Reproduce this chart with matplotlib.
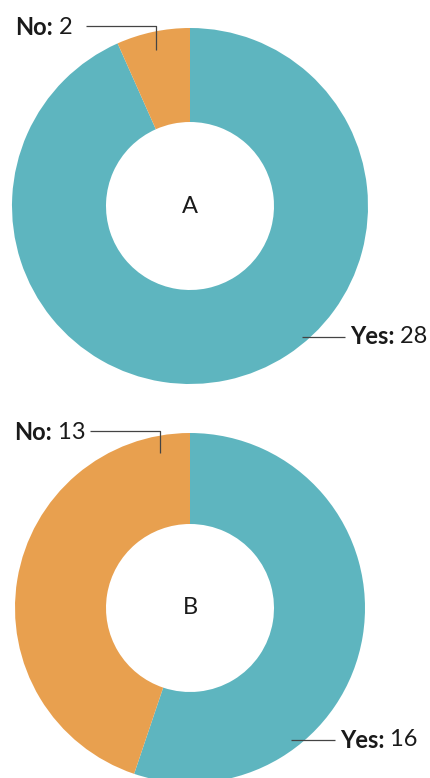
import numpy as np
import matplotlib.pyplot as plt

plt.rcParams['font.family'] = ['Lato', 'DejaVu Sans']

# data
charts = ['A', 'B']
labels = ['Yes', 'No']
values_a = [28, 2]
values_b = [16, 13]
colors = ['#5eb5bf', '#e8a04f']

W, H = 431, 778
fig = plt.figure(figsize=(W / 100, H / 100), dpi=100)
ax = fig.add_axes([0, 0, 1, 1])
ax.set_xlim(0, W)
ax.set_ylim(0, H)
renderer = fig.canvas.get_renderer()

FS = 17

def donut(values, cx, cy, r, hole, name):
    ax.pie(values, colors=colors, startangle=90, counterclock=False,
           center=(cx, H - cy), radius=r,
           wedgeprops=dict(width=r - hole, linewidth=0))
    ax.text(cx, H - cy, name, ha='center', va='center', fontsize=FS, color='#1a1a1a')

def text_width(t):
    bb = t.get_window_extent(renderer=renderer)
    return bb.width

def leader(pts, text_xy, label, value, ha):
    ax.plot([p[0] for p in pts], [H - p[1] for p in pts], color='#444444', lw=0.9,
            solid_capstyle='butt')
    x, y = text_xy[0], H - text_xy[1]
    if ha == 'left':
        t = ax.text(x, y, label + ':', ha='left', va='center', fontsize=FS,
                    fontweight='bold', color='#1a1a1a')
        ax.text(x + text_width(t), y, ' ' + str(value), ha='left', va='center',
                fontsize=FS, color='#1a1a1a')
    else:
        t = ax.text(x, y, ' ' + str(value), ha='right', va='center', fontsize=FS,
                    color='#1a1a1a')
        ax.text(x - text_width(t), y, label + ':', ha='right', va='center',
                fontsize=FS, fontweight='bold', color='#1a1a1a')

donut(values_a, 190, 206, 178, 84, charts[0])
donut(values_b, 190, 608, 175, 84, charts[1])

leader([(156, 50), (156, 26), (86, 26)], (73, 27), labels[1], values_a[1], 'right')
leader([(302, 337), (345, 337)], (350, 336), labels[0], values_a[0], 'left')
leader([(160, 453), (160, 431), (90, 431)], (86, 432), labels[1], values_b[1], 'right')
leader([(291, 740), (335, 740)], (340, 740), labels[0], values_b[0], 'left')

ax.set_xlim(0, W)
ax.set_ylim(0, H)
ax.set_aspect('auto')
ax.axis('off')
fig.savefig('out.png', dpi=100)
